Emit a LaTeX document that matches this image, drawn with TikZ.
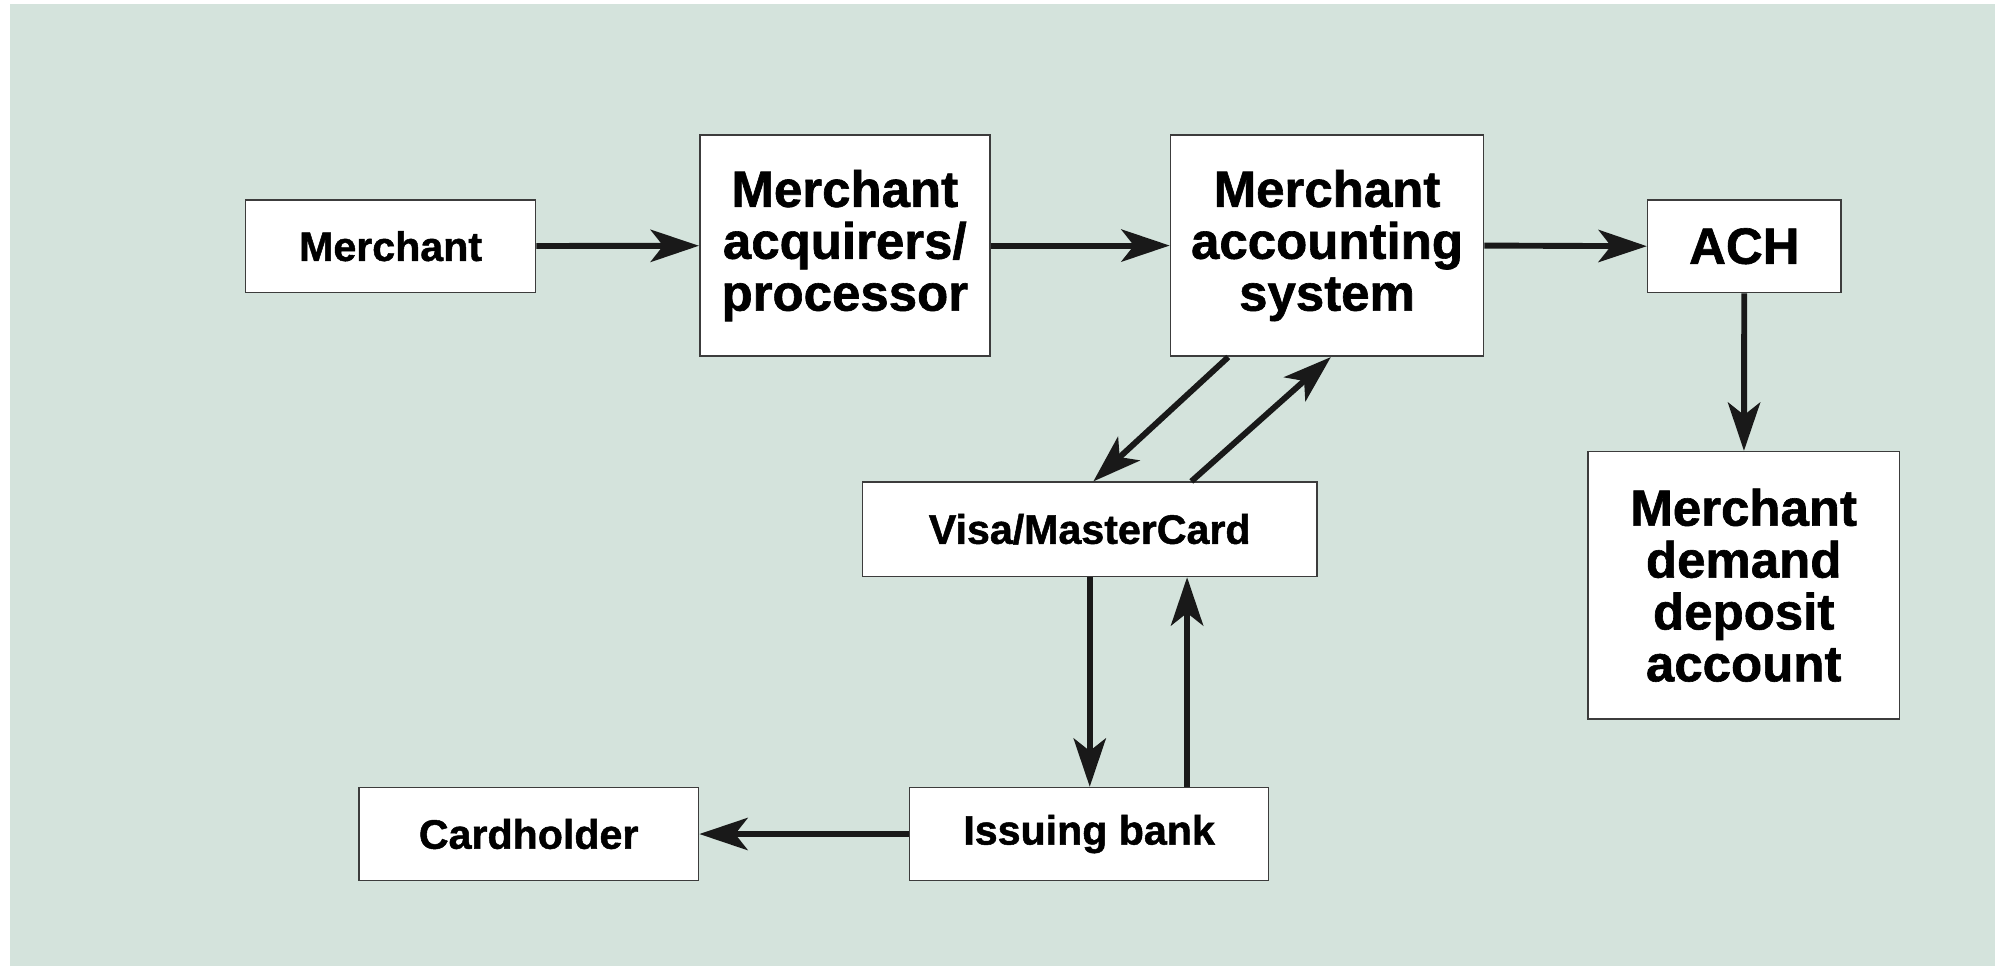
\documentclass[tikz,border=0pt]{standalone}
\usepackage{fontspec}
\setmainfont{Liberation Sans}[BoldFeatures={FakeBold=1.2}]
\usetikzlibrary{arrows.meta,calc}
\definecolor{bgmint}{RGB}{212,227,220}
\definecolor{boxline}{RGB}{60,60,60}

\begin{document}
\begin{tikzpicture}[x=0.025cm, y=-0.025cm,
        box/.style={draw=boxline, line width=0.9pt, fill=white, align=center, inner sep=0pt, font=\bfseries\fontsize{23}{26}\selectfont},
        bigbox/.style={box, font=\bfseries\fontsize{28.5}{29}\selectfont},
        flow/.style={-{Stealth[length=27pt,width=18pt,inset=7pt]}, line width=3.3pt, black!90}]
    	        \useasboundingbox (0,0) rectangle (1568,759);
    	        \fill[white] (0,0) rectangle (1568,759);
    	        \fill[bgmint] (8,3.5) rectangle (1568,759);

    	        \node[box, minimum width=5.7cm, minimum height=1.825cm] at (307,193.5) (merch) {Merchant};
    	        \node[bigbox, minimum width=5.7cm, minimum height=4.35cm] at (664,193) (acq) {Merchant\\acquirers/\\processor};
    	        \node[bigbox, minimum width=6.15cm, minimum height=4.35cm] at (1043,193) (mas) {Merchant\\accounting\\system};
    	        \node[bigbox, minimum width=3.8cm, minimum height=1.825cm] at (1371,193.5) (ach) {ACH};
    	        \node[bigbox, minimum width=6.125cm, minimum height=5.25cm] at (1370.5,460) (mdda) {Merchant\\demand\\deposit\\account};
    	        \node[box, minimum width=8.925cm, minimum height=1.85cm] at (856.5,416) (visa) {Visa/MasterCard};
    	        \node[box, minimum width=7.05cm, minimum height=1.825cm] at (856,655.5) (issue) {Issuing bank};
    	        \node[box, minimum width=6.675cm, minimum height=1.825cm] at (415.5,655.5) (card) {Cardholder};

    	        \coordinate (masout) at ($(mas.south west)+(46,0)$);
    	        \coordinate (masin) at ($(mas.south)+(3,0)$);
    	        \coordinate (visain) at ($(visa.north west)+(182,0)$);
    	        \coordinate (visaout) at ($(visa.north west)+(259,0)$);
    	        \coordinate (issueout) at ($(issue.north)+(77,0)$);

    	        \draw[flow] (merch) -- (acq);
    	        \draw[flow] (acq) -- (mas);
    	        \draw[flow] (mas.east) -- (ach.west);
    	        \draw[flow] (ach) -- (mdda);

    	        \draw[flow] (masout) -- (visain);
    	        \draw[flow] (visaout) -- (masin);
    	        \draw[flow] (visa.south) -- (visa.south |- issue.north);
    	        \draw[flow] (issueout) -- (issueout |- visa.south);
    	        \draw[flow] (issue) -- (card);
    	    \end{tikzpicture}
\end{document}
